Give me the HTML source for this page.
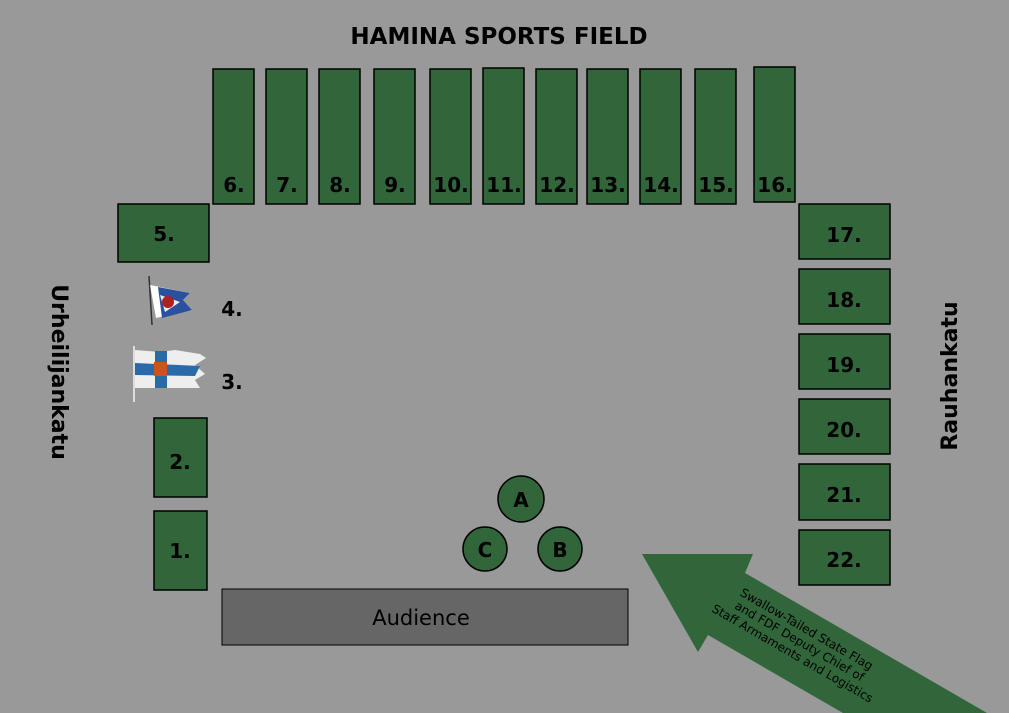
<!DOCTYPE html>
<html><head><style>
body{margin:0;background:#999999;}
svg{display:block;font-family:"DejaVu Sans","Liberation Sans",sans-serif;}
</style></head><body>
<svg width="1009" height="713" viewBox="0 0 1009 713">
<rect width="1009" height="713" fill="#999999"/>
<text x="499" y="44" font-size="23" font-weight="bold" text-anchor="middle" fill="#000">HAMINA SPORTS FIELD</text>
<g fill="#30663a" stroke="#000" stroke-width="1.5">
<rect x="213" y="69" width="41" height="135"/>
<rect x="266" y="69" width="41" height="135"/>
<rect x="319" y="69" width="41" height="135"/>
<rect x="374" y="69" width="41" height="135"/>
<rect x="430" y="69" width="41" height="135"/>
<rect x="483" y="68" width="41" height="136"/>
<rect x="536" y="69" width="41" height="135"/>
<rect x="587" y="69" width="41" height="135"/>
<rect x="640" y="69" width="41" height="135"/>
<rect x="695" y="69" width="41" height="135"/>
<rect x="754" y="67" width="41" height="135"/>
<rect x="118" y="204" width="91" height="58"/>
<rect x="154" y="418" width="53" height="79"/>
<rect x="154" y="511" width="53" height="79"/>
<rect x="799" y="204" width="91" height="55"/>
<rect x="799" y="269" width="91" height="55"/>
<rect x="799" y="334" width="91" height="55"/>
<rect x="799" y="399" width="91" height="55"/>
<rect x="799" y="464" width="91" height="56"/>
<rect x="799" y="530" width="91" height="55"/>
<circle cx="521" cy="499" r="23"/>
<circle cx="485" cy="549" r="22"/>
<circle cx="560" cy="549" r="22"/>
</g>
<rect x="222" y="589" width="406" height="56" fill="#666" stroke="#000" stroke-width="1"/>
<text x="421" y="625" font-size="21" text-anchor="middle" fill="#000">Audience</text>
<g font-size="20" font-weight="bold" fill="#000" text-anchor="middle">
<text x="234" y="192">6.</text><text x="287" y="192">7.</text><text x="340" y="192">8.</text>
<text x="395" y="192">9.</text><text x="451" y="192">10.</text><text x="504" y="192">11.</text>
<text x="557" y="192">12.</text><text x="608" y="192">13.</text><text x="661" y="192">14.</text>
<text x="716" y="192">15.</text><text x="775" y="192">16.</text>
<text x="164" y="241">5.</text><text x="180" y="469">2.</text><text x="180" y="558">1.</text>
<text x="232" y="316">4.</text><text x="232" y="389">3.</text>
<text x="844" y="242">17.</text><text x="844" y="307">18.</text><text x="844" y="372">19.</text>
<text x="844" y="437">20.</text><text x="844" y="502">21.</text><text x="844" y="567">22.</text>
<text x="521" y="507">A</text><text x="485" y="557">C</text><text x="560" y="557">B</text>
</g>
<text transform="translate(52,372) rotate(90)" font-size="22" font-weight="bold" text-anchor="middle" fill="#000">Urheilijankatu</text>
<text transform="translate(957,376) rotate(-90)" font-size="22" font-weight="bold" text-anchor="middle" fill="#000">Rauhankatu</text>
<!-- flag 4 -->
<line x1="149" y1="276" x2="152" y2="325" stroke="#333" stroke-width="1.5"/>
<polygon points="150,285 190,293 183,300 192,310 156,318" fill="#fff"/>
<polygon points="158,287 190,293 183,300 192,310 162,318" fill="#2b50a0"/>
<polygon points="160,295 180,302 165,312" fill="#eee"/>
<circle cx="168" cy="302" r="6" fill="#b02020"/>
<!-- flag 3 -->
<line x1="134" y1="346" x2="134" y2="402" stroke="#ddd" stroke-width="2"/>
<polygon points="135,350 160,352 175,350 200,354 206,358 195,365 205,374 195,380 200,388 135,388" fill="#eee"/>
<rect x="155" y="351" width="12" height="37" fill="#2a6aa8"/>
<polygon points="135,363 200,366 195,376 135,375" fill="#2a6aa8"/>
<rect x="154" y="362" width="13" height="14" fill="#c8541e"/>
<!-- arrow -->
<polygon points="642,554 753,554 745,573 987,713 843,713 708,635 698,652" fill="#30663a"/>
<g transform="translate(798,644) rotate(30)" font-size="12" text-anchor="middle" fill="#000">
<text x="0" y="-13">Swallow-Tailed State Flag</text>
<text x="0" y="1">and FDF Deputy Chief of</text>
<text x="0" y="15">Staff Armaments and Logistics</text>
</g>
</svg>
</body></html>
